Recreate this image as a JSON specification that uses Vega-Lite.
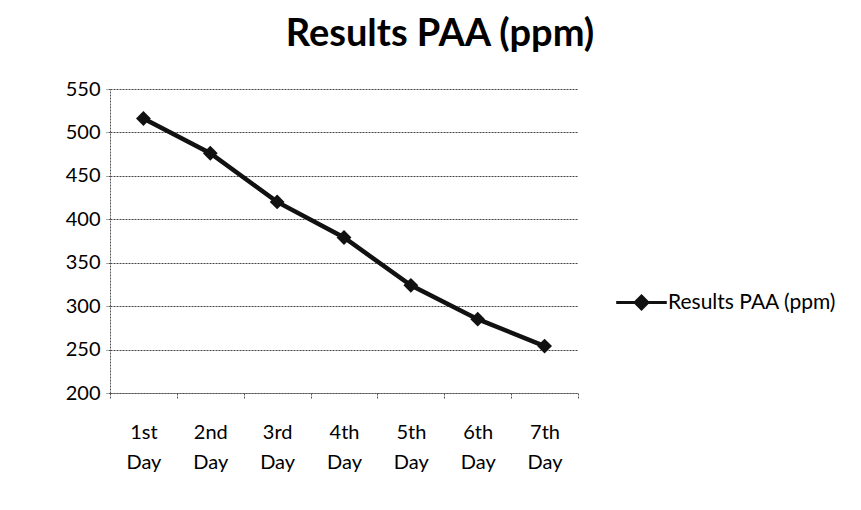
{
  "$schema": "https://vega.github.io/schema/vega-lite/v6.json",
  "width": 468,
  "height": 304,
  "autosize": {"type": "none"},
  "padding": {"left": 110, "top": 89, "right": 283, "bottom": 117},
  "background": "white",
  "config": {
    "font": "Lato",
    "view": {"stroke": null}
  },
  "title": {
    "text": "Results PAA (ppm)",
    "fontSize": 38,
    "fontWeight": "bold",
    "font": "Lato",
    "color": "#000",
    "anchor": "middle",
    "dx": 96,
    "offset": 25
  },
  "data": {
    "values": [
      {"day": "1st Day", "value": 516, "series": "Results PAA (ppm)"},
      {"day": "2nd Day", "value": 476, "series": "Results PAA (ppm)"},
      {"day": "3rd Day", "value": 420, "series": "Results PAA (ppm)"},
      {"day": "4th Day", "value": 379, "series": "Results PAA (ppm)"},
      {"day": "5th Day", "value": 324, "series": "Results PAA (ppm)"},
      {"day": "6th Day", "value": 285, "series": "Results PAA (ppm)"},
      {"day": "7th Day", "value": 254, "series": "Results PAA (ppm)"}
    ]
  },
  "mark": {"type": "line", "strokeWidth": 4.5, "point": {"shape": "diamond", "size": 220, "filled": true, "color": "#111"}},
  "encoding": {
    "x": {
      "field": "day",
      "type": "ordinal",
      "sort": null,
      "title": null,
      "scale": {"paddingInner": 0, "paddingOuter": 0},
      "axis": {
        "labelAngle": 0,
        "labelExpr": "split(datum.label, ' ')",
        "labelFontSize": 20,
        "labelColor": "#000",
        "labelLineHeight": 30,
        "labelPadding": 34,
        "labelBaseline": "middle",
        "tickBand": "extent",
        "tickSize": 5,
        "tickColor": "#555",
        "tickDash": [2, 1],
        "domainColor": "#555",
        "domainDash": [2, 1],
        "grid": false
      }
    },
    "y": {
      "field": "value",
      "type": "quantitative",
      "title": null,
      "scale": {"domain": [200, 550], "nice": false},
      "axis": {
        "values": [200, 250, 300, 350, 400, 450, 500, 550],
        "labelFontSize": 20,
        "labelColor": "#000",
        "labelPadding": 6,
        "tickSize": 4,
        "tickColor": "#555",
        "tickDash": [2, 1],
        "domainColor": "#555",
        "domainDash": [2, 1],
        "grid": true,
        "gridColor": "#444",
        "gridDash": [2, 1],
        "gridWidth": 1
      }
    },
    "color": {
      "field": "series",
      "type": "nominal",
      "scale": {"range": ["#111"]},
      "legend": {
        "title": null,
        "orient": "none",
        "legendX": 514,
        "legendY": 196,
        "labelFontSize": 21,
        "labelLimit": 400,
        "labelColor": "#000",
        "symbolType": "M-1.6,0L1.6,0M0,-0.4L0.4,0L0,0.4L-0.4,0Z",
        "symbolSize": 1000,
        "symbolStrokeWidth": 3,
        "symbolFillColor": "#111",
        "labelOffset": 9
      }
    }
  }
}
